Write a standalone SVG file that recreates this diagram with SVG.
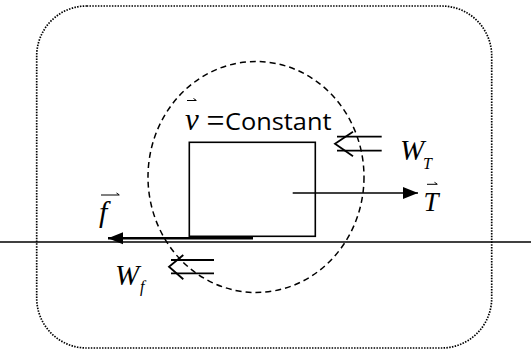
<svg xmlns="http://www.w3.org/2000/svg" width="531" height="351" viewBox="0 0 531 351">
<style>
.ln{stroke:#000;fill:none}
.m{font-family:"Liberation Serif","Times New Roman",serif;font-style:italic;fill:#000}
.s{font-family:"Open Sans","Liberation Sans",sans-serif;fill:#000}
</style>
<defs>
<marker id="tri" markerUnits="userSpaceOnUse" markerWidth="16" markerHeight="14" refX="15" refY="7" orient="auto">
<path d="M0,1 L15,7 L0,13 Z" fill="#000"/>
</marker>
</defs>
<rect width="531" height="351" fill="#fff"/>
<g id="frame">
<rect x="36.7" y="6" width="455" height="342" rx="50" ry="50" class="ln" stroke-width="1.7" stroke-dasharray="1.5 1.3"/>
</g>
<g id="system">
<ellipse cx="256" cy="177" rx="108" ry="115.5" class="ln" stroke-width="1.5" stroke-dasharray="6 4"/>
</g>
<g id="ground">
<line x1="0" y1="242" x2="531" y2="242" class="ln" stroke-width="1.6"/>
</g>
<g id="block">
<rect x="189.3" y="142.3" width="126" height="94" class="ln" stroke-width="1.6"/>
</g>
<g id="connectors">
<line x1="292.7" y1="193" x2="418" y2="193" class="ln" stroke-width="1.6" marker-end="url(#tri)"/>
<line x1="253" y1="238.3" x2="108" y2="238.3" class="ln" stroke-width="2.6" marker-end="url(#tri)"/>
<g id="WT-arrow" class="ln" stroke-width="1.8">
<line x1="337" y1="136.7" x2="381.7" y2="136.7"/>
<line x1="337" y1="150.7" x2="381.7" y2="150.7"/>
<polyline points="353,131.7 335,143.7 353,156.3"/>
</g>
<g id="Wf-arrow" class="ln" stroke-width="1.8">
<line x1="171" y1="260" x2="214" y2="260"/>
<line x1="171" y1="273.3" x2="214" y2="273.3"/>
<polyline points="183.3,255 169,266.7 183.3,279.3"/>
</g>
</g>
<g id="label-v">
<text x="185" y="130" class="m" font-size="31">v</text>
<path d="M187,100.5 H196 M193.5,98.5 L196.5,100.5" class="ln" stroke-width="1"/>
<text x="206.5" y="132" font-family="Liberation Serif,serif" font-size="34" textLength="18" lengthAdjust="spacingAndGlyphs">=</text>
<text x="225" y="130" class="s" font-size="23.5" textLength="106.5" lengthAdjust="spacingAndGlyphs">Constant</text>
</g>
<g id="label-WT">
<text x="400" y="160" class="m" font-size="29">W</text>
<text x="423" y="169.3" class="m" font-size="16">T</text>
</g>
<g id="label-T">
<text x="423.5" y="211" class="m" font-size="27">T</text>
<path d="M427,184.3 H437 M434.5,182.3 L437.5,184.3" class="ln" stroke-width="1"/>
</g>
<g id="label-f">
<text x="99" y="222" class="m" font-size="30">f</text>
<path d="M101,195 H119 M116.5,193 L119.5,195" class="ln" stroke-width="1"/>
</g>
<g id="label-Wf">
<text x="115" y="285" class="m" font-size="29">W</text>
<text x="140" y="292" class="m" font-size="16">f</text>
</g>
</svg>
